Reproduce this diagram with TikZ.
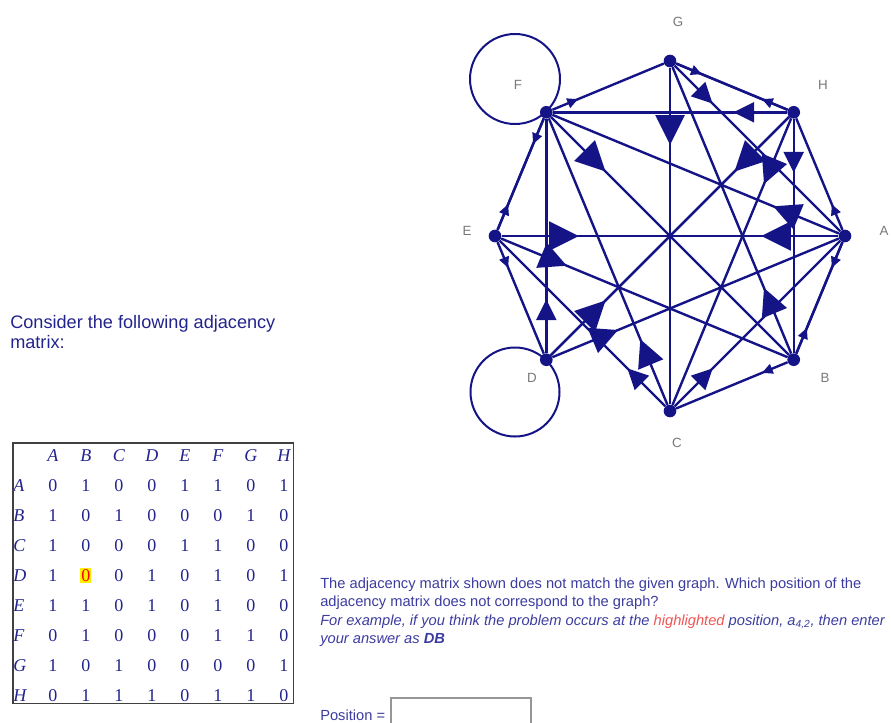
\documentclass[tikz,border=0pt]{standalone}
\usepackage{fontspec}
\setmainfont{Liberation Sans}
\newfontfamily\matfont{Liberation Serif}
\usetikzlibrary{decorations.markings,matrix}

\definecolor{gnavy}{RGB}{20,20,135}
\definecolor{txtblue}{RGB}{35,35,140}
\definecolor{parablue}{RGB}{60,60,160}
\definecolor{lblgray}{RGB}{120,120,120}
\definecolor{hlred}{RGB}{240,85,85}
\definecolor{hlyellow}{RGB}{255,240,0}
\definecolor{boxgray}{RGB}{150,150,150}

\newcommand{\hlzero}{{\setlength{\fboxsep}{0.8pt}\colorbox{hlyellow}{\textcolor{red}{0}}}}

\tikzset{
  vtx/.style={circle,fill=gnavy,inner sep=0pt,minimum size=9.5pt},
  vlabel/.style={text=lblgray,font=\fontsize{10}{12}\selectfont,inner sep=0pt},
  edge/.style={draw=gnavy,line width=1.8pt,
    postaction={decorate,decoration={markings,
      mark=at position 0.185 with {
        \pgfmathsetmacro\headlen{0.044*\pgfdecoratedpathlength}
        \fill[gnavy] (\headlen pt,0pt) -- (-\headlen pt,\headlen pt) -- (-\headlen pt,-\headlen pt) -- cycle;}}}},
  selfloop/.style={draw=gnavy,line width=1.5pt},
  cell/.style={minimum width=24.75pt,minimum height=22.5pt,inner sep=0pt,anchor=center,
    text height=9.2pt,text depth=0pt,text=txtblue,font=\matfont\fontsize{13.5}{14}\selectfont},
  rowhead/.style={minimum width=0pt,text width=17.25pt,align=left,font=\matfont\itshape\fontsize{13.5}{14}\selectfont},
  colhead/.style={font=\matfont\itshape\fontsize{13.5}{14}\selectfont},
  mbox/.style={draw=black!75,line width=1.1pt},
  para/.style={anchor=north west,inner sep=0pt,align=left,text=parablue,font=\fontsize{11}{13.5}\selectfont},
}

\begin{document}
\begin{tikzpicture}[x=0.75pt,y=-0.75pt]
\path[use as bounding box] (0,0) rectangle (891,722);
\clip (0,0) rectangle (891,722);

% graph vertices
\node[vtx] (A) at (845,236) {};
\node[vtx] (H) at (793.7,112.3) {};
\node[vtx] (G) at (670,61) {};
\node[vtx] (F) at (546.3,112.3) {};
\node[vtx] (E) at (495,236) {};
\node[vtx] (D) at (546.3,359.7) {};
\node[vtx] (C) at (670,411) {};
\node[vtx] (B) at (793.7,359.7) {};

\node[vlabel] (lA) at (884,231) {A};
\node[vlabel] (lH) at (823,85) {H};
\node[vlabel] (lG) at (678,22) {G};
\node[vlabel] (lF) at (518,85) {F};
\node[vlabel] (lE) at (467,231) {E};
\node[vlabel] (lD) at (532,378) {D};
\node[vlabel] (lC) at (677,443) {C};
\node[vlabel] (lB) at (825,378) {B};

% self loops
\draw[selfloop] ([shift={(-31.3,-33.3)}]F.center) circle[radius=45];
\draw[selfloop] ([shift={(-31.3,32.3)}]D.center) circle[radius=44.5];

% directed edges
\draw[edge] (A) -- (B);
\draw[edge] (A) -- (E);
\draw[edge] (A) -- (F);
\draw[edge] (A) -- (H);
\draw[edge] (B) -- (A);
\draw[edge] (B) -- (C);
\draw[edge] (B) -- (G);
\draw[edge] (C) -- (A);
\draw[edge] (C) -- (E);
\draw[edge] (C) -- (F);
\draw[edge] (D) -- (A);
\draw[edge] (D) -- (F);
\draw[edge] (D) -- (H);
\draw[edge] (E) -- (A);
\draw[edge] (E) -- (B);
\draw[edge] (E) -- (D);
\draw[edge] (E) -- (F);
\draw[edge] (F) -- (B);
\draw[edge] (F) -- (E);
\draw[edge] (F) -- (G);
\draw[edge] (G) -- (A);
\draw[edge] (G) -- (C);
\draw[edge] (G) -- (H);
\draw[edge] (H) -- (B);
\draw[edge] (H) -- (C);
\draw[edge] (H) -- (D);
\draw[edge] (H) -- (F);
\draw[edge] (H) -- (G);

% question text
\node[anchor=north west,inner sep=0pt,align=left,text=txtblue,font=\fontsize{13.6}{15}\selectfont] (intro) at (10,315) {Consider the following adjacency\\matrix:};

% adjacency matrix
\matrix (adj) [matrix of nodes,anchor=north west,inner sep=0pt,row sep=0pt,column sep=0pt,
  nodes={cell},column 1/.style={nodes={rowhead}},row 1/.style={nodes={colhead}}] at (13,440) {
    & A & B & C & D & E & F & G & H \\
  A & 0 & 1 & 0 & 0 & 1 & 1 & 0 & 1 \\
  B & 1 & 0 & 1 & 0 & 0 & 0 & 1 & 0 \\
  C & 1 & 0 & 0 & 0 & 1 & 1 & 0 & 0 \\
  D & 1 & \hlzero & 0 & 1 & 0 & 1 & 0 & 1 \\
  E & 1 & 1 & 0 & 1 & 0 & 1 & 0 & 0 \\
  F & 0 & 1 & 0 & 0 & 0 & 1 & 1 & 0 \\
  G & 1 & 0 & 1 & 0 & 0 & 0 & 0 & 1 \\
  H & 0 & 1 & 1 & 1 & 0 & 1 & 1 & 0 \\
};
\draw[mbox] ([yshift=-2.25pt]adj.north west) rectangle ([xshift=-5.25pt,yshift=5.25pt]adj.south east);

\node[para] (question) at (320,577.5) {The adjacency matrix shown does not match the given graph. Which position of the\\adjacency matrix does not correspond to the graph?};
\node[para,font=\itshape\fontsize{11}{13.5}\selectfont] (example) at (320,614.5) {For example, if you think the problem occurs at the \textcolor{hlred}{highlighted} position, a\textsubscript{4,2}, then enter\\your answer as \textbf{DB}};
\node[anchor=base west,inner sep=0pt,text=parablue,font=\fontsize{11}{13.5}\selectfont] (poslabel) at (320,720) {Position =};
\node[draw=boxgray,line width=1.2pt,anchor=north west,minimum width=105pt,minimum height=24pt,inner sep=0pt] (posbox) at (390,697) {};
\end{tikzpicture}
\end{document}
